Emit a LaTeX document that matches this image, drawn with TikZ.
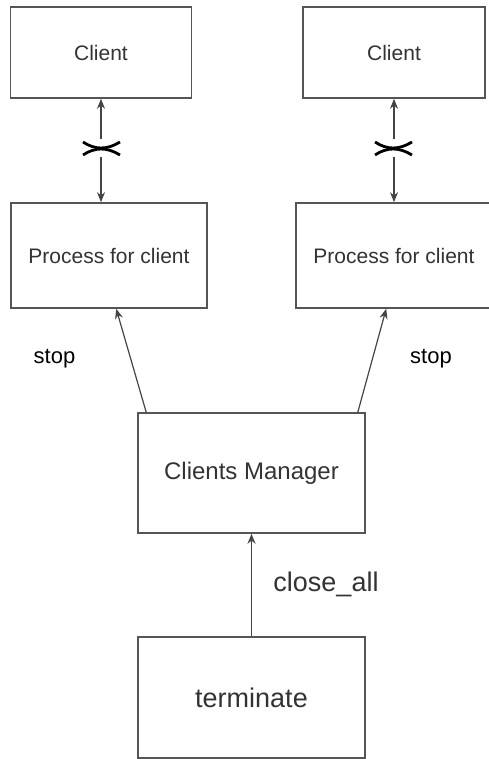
\documentclass[tikz,border=0pt]{standalone}
\usepackage{fontspec}
\setmainfont{Liberation Sans}
\usetikzlibrary{arrows.meta,calc}

\definecolor{boxline}{HTML}{555555}
\definecolor{txt}{HTML}{333333}
\definecolor{conn}{HTML}{444444}

\tikzset{
  box/.style={draw=boxline, line width=1.6pt, fill=white, inner sep=0pt,
              text=txt, align=center},
  conn/.style={draw=conn, line width=1.2pt, -{Stealth[length=10pt,width=8pt]}},
  biconn/.style={draw=conn, line width=1.2pt,
                 {Stealth[length=10pt,width=8pt]}-{Stealth[length=10pt,width=8pt]}},
  cutmark/.style={draw=black, line width=2.8pt},
  lbl/.style={inner sep=0pt, text=black}
}

\begin{document}
\begin{tikzpicture}[x=1pt, y=-1pt]
  \useasboundingbox (0,0) rectangle (488,759);

  % clients
  \node[box, minimum width=181pt, minimum height=91pt, font=\fontsize{21}{24}\selectfont]
    (lc) at (101,52.5) {Client};
  \node[box, minimum width=182pt, minimum height=91pt, font=\fontsize{21}{24}\selectfont]
    (rc) at (394,52.5) {Client};

  % per-client processes
  \node[box, minimum width=196pt, minimum height=105pt, font=\fontsize{21}{24}\selectfont]
    (lp) at (109,255.5) {Process for client};
  \node[box, minimum width=196pt, minimum height=105pt, font=\fontsize{21}{24}\selectfont]
    (rp) at (394,255.5) {Process for client};

  % manager and trigger
  \node[box, minimum width=227pt, minimum height=120pt, font=\fontsize{24}{28}\selectfont]
    (cm) at (251.5,473) {Clients Manager};
  \node[box, minimum width=227pt, minimum height=121pt, font=\fontsize{27}{31}\selectfont]
    (term) at (251.5,697.5) {terminate};

  % broken client links: the connector is cut where the cross sits
  \draw[biconn] (lp.north -| lc.south) -- (lc.south);
  \draw[biconn] (rc.south) -- (rc.south |- rp.north);
  \coordinate (lx) at (101,148.5);
  \coordinate (rx) at (393,148.5);
  \foreach \c in {lx,rx}{
    \fill[white] ($(\c)+(-3,-9)$) rectangle ($(\c)+(3,9)$);
    \draw[cutmark] ($(\c)+(-18,-6.5)$) .. controls ($(\c)+(-6,1.5)$) and ($(\c)+(6,1.5)$) .. ($(\c)+(19,-6.5)$);
    \draw[cutmark] ($(\c)+(-18,6.5)$) .. controls ($(\c)+(-6,-1.5)$) and ($(\c)+(6,-1.5)$) .. ($(\c)+(19,6.5)$);
  }

  % stop signals
  \coordinate (cml) at ($(cm.north west)+(9,0)$);
  \coordinate (cmr) at ($(cm.north east)+(-8,0)$);
  \coordinate (lpt) at ($(lp.south west)+(106,0)$);
  \coordinate (rpt) at ($(rp.south west)+(91,0)$);
  \draw[conn] (cml) -- (lpt);
  \draw[conn] (cmr) -- (rpt);
  \node[lbl, font=\fontsize{22}{26}\selectfont] (stopl) at (54.5,359) {stop};
  \node[lbl, font=\fontsize{22}{26}\selectfont] (stopr) at (431,359) {stop};

  % close_all signal
  \draw[conn] (term.north) -- (cm.south);
  \node[lbl, font=\fontsize{27}{31}\selectfont, text=txt] (ca) at (326,584) {close\_all};
\end{tikzpicture}
\end{document}
